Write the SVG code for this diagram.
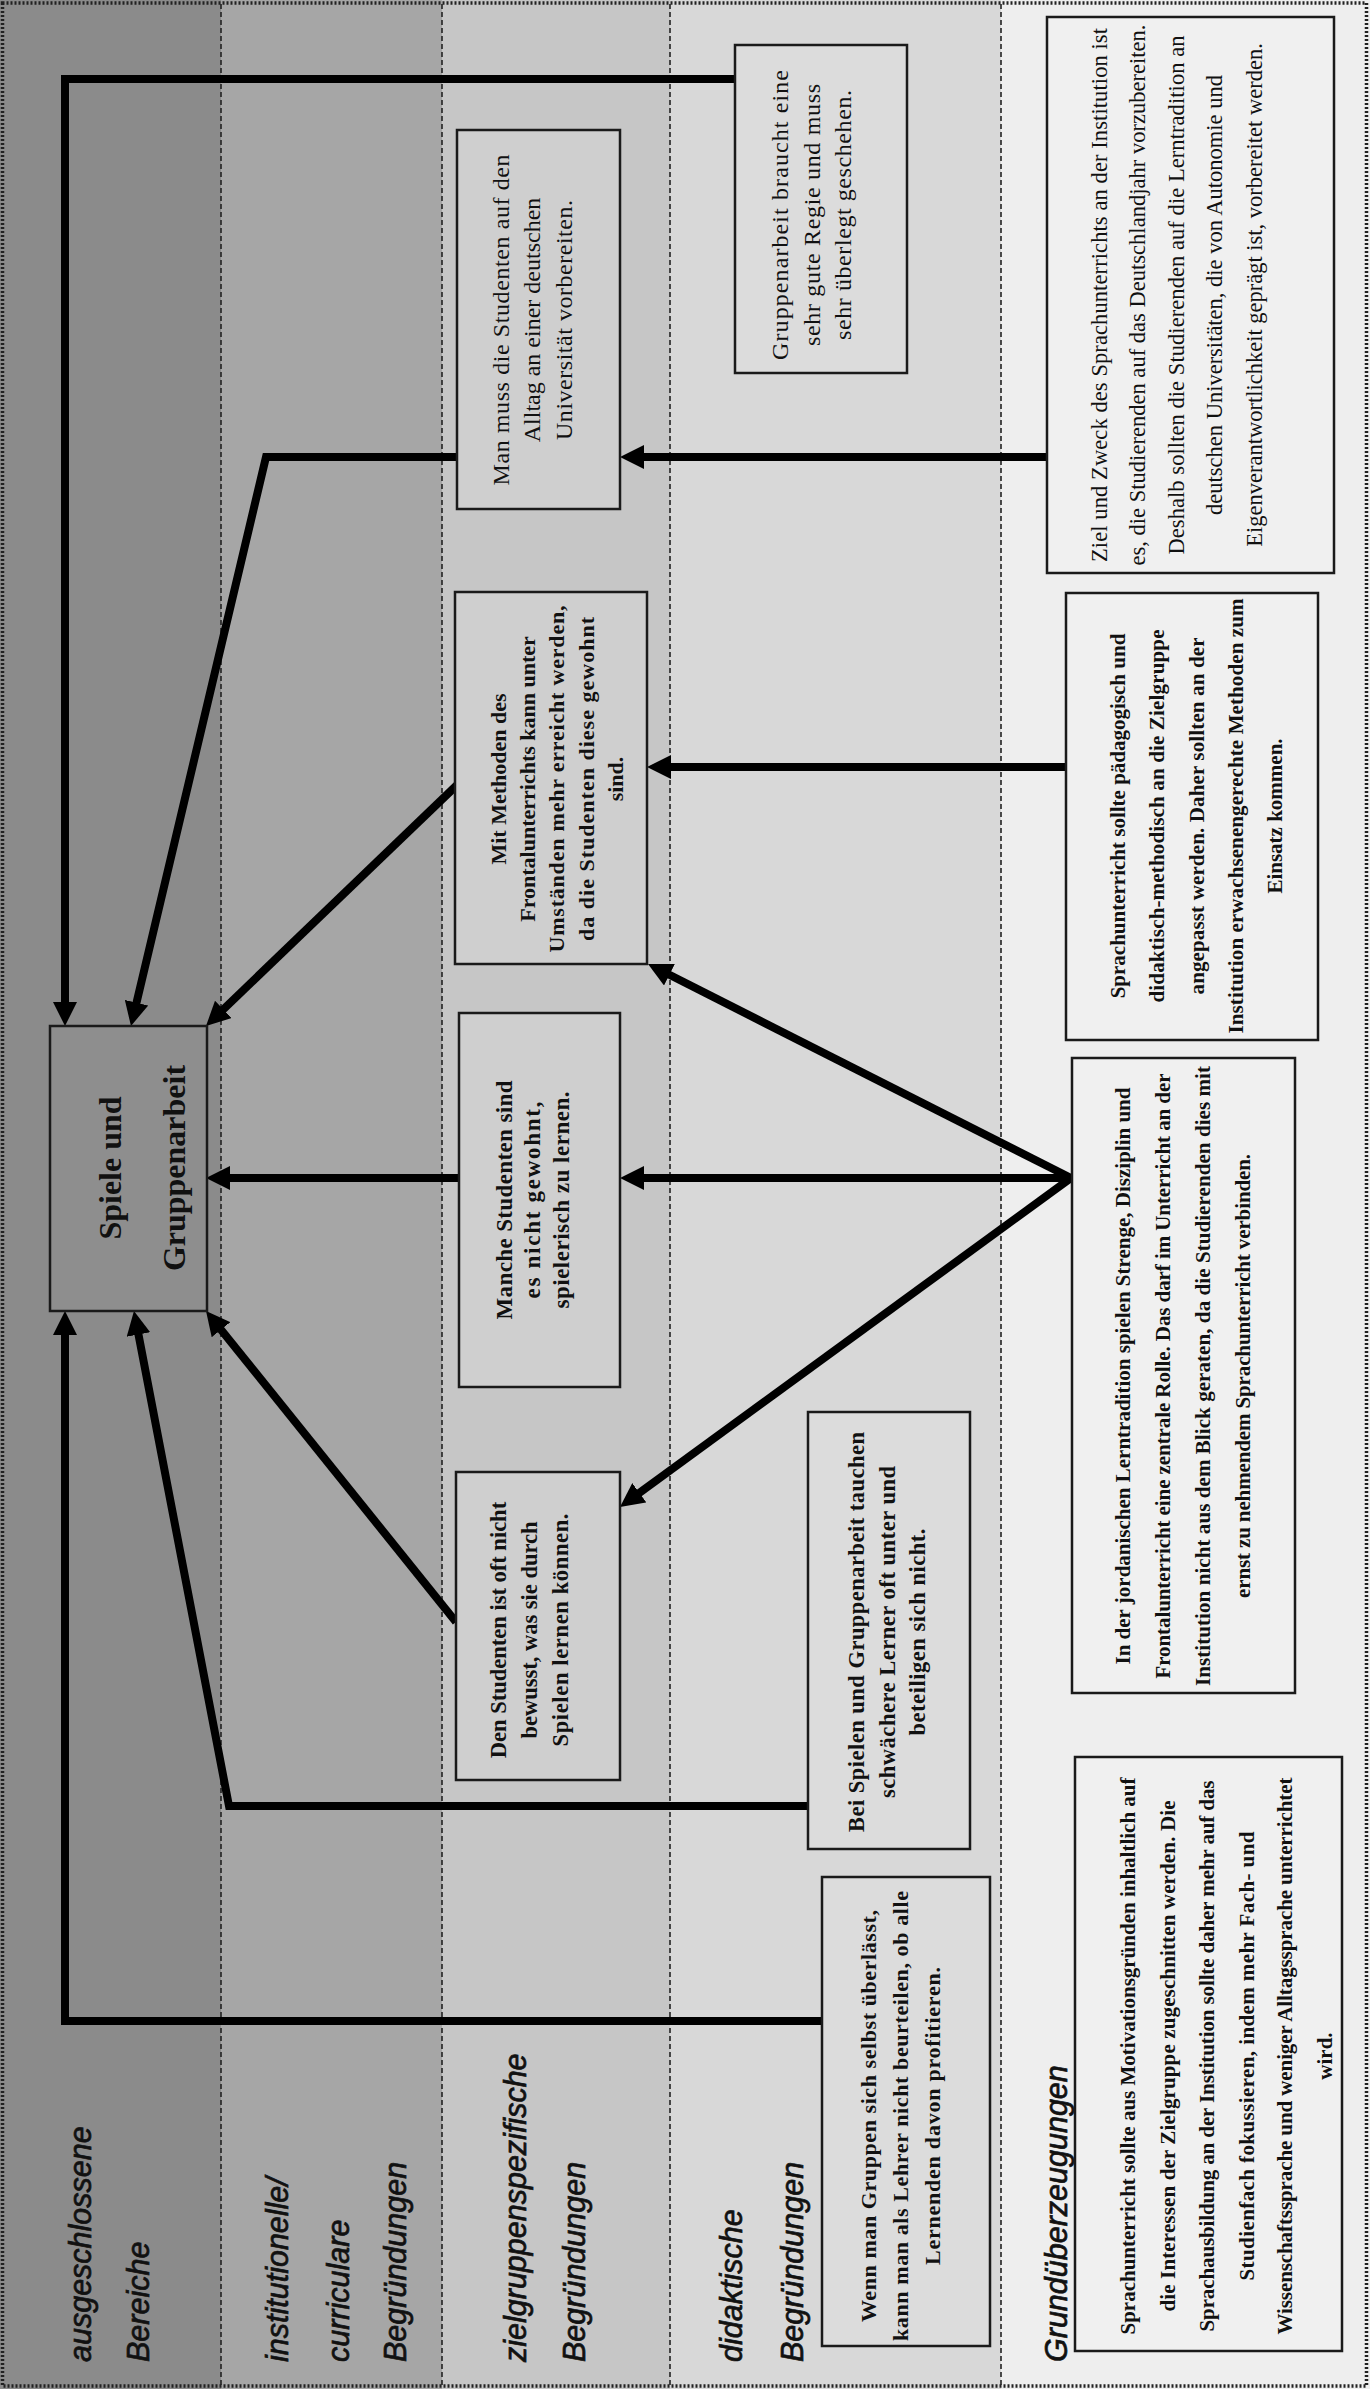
<svg xmlns="http://www.w3.org/2000/svg" width="1370" height="2389" viewBox="0 0 1370 2389">
<style>
.hdr{font-family:"Liberation Sans",Arial,sans-serif;font-style:italic;font-size:30.5px;fill:#111;stroke:#111;stroke-width:0.7}
.r{font-family:"Liberation Serif","Times New Roman",serif;fill:#111;text-anchor:middle}
.b{font-family:"Liberation Serif","Times New Roman",serif;font-weight:bold;fill:#111;text-anchor:middle}
.box{stroke:#1a1a1a;stroke-width:2.5}
.c3{fill:#cfcfcf}.c4{fill:#dcdcdc}.c5{fill:#f0f0f0}
.div{stroke:#222;stroke-width:1.6;stroke-dasharray:5 3;fill:none}
.arr{stroke:#000;stroke-width:8;fill:none;stroke-linejoin:miter;marker-end:url(#ah)}
</style>
<defs>
<marker id="ah" viewBox="0 0 24 24" refX="10" refY="12" markerWidth="24" markerHeight="24" markerUnits="userSpaceOnUse" orient="auto">
<path d="M0,0 L24,12 L0,24 z" fill="#000"/>
</marker>
</defs>
<g id="background">
<rect x="0" y="0" width="221" height="2389" fill="#8b8b8b"/>
<rect x="221" y="0" width="221" height="2389" fill="#a6a6a6"/>
<rect x="442" y="0" width="228" height="2389" fill="#c6c6c6"/>
<rect x="670" y="0" width="331" height="2389" fill="#d8d8d8"/>
<rect x="1001" y="0" width="369" height="2389" fill="#eeeeee"/>
<line class="div" x1="221" y1="4" x2="221" y2="2385"/>
<line class="div" x1="442" y1="4" x2="442" y2="2385"/>
<line class="div" x1="670" y1="4" x2="670" y2="2385"/>
<line class="div" x1="1001" y1="4" x2="1001" y2="2385"/>
<rect x="2.5" y="3" width="1364" height="2383" fill="none" stroke="#222" stroke-width="3.5" stroke-dasharray="2 2"/>
</g>
<g id="headers">
<text class="hdr" transform="translate(0,2362) rotate(-90)"><tspan x="0" y="91">ausgeschlossene</tspan><tspan x="0" y="149">Bereiche</tspan></text>
<text class="hdr" transform="translate(0,2362) rotate(-90)"><tspan x="0" y="288">institutionelle/</tspan><tspan x="0" y="349">curriculare</tspan><tspan x="0" y="406">Begründungen</tspan></text>
<text class="hdr" transform="translate(0,2362) rotate(-90)"><tspan x="0" y="526">zielgruppenspezifische</tspan><tspan x="0" y="585">Begründungen</tspan></text>
<text class="hdr" transform="translate(0,2362) rotate(-90)"><tspan x="0" y="742">didaktische</tspan><tspan x="0" y="803">Begründungen</tspan></text>
<text class="hdr" transform="translate(0,2362) rotate(-90)"><tspan x="0" y="1067">Grundüberzeugungen</tspan></text>
</g>
<g id="connectors">
<path class="arr" d="M735,79 H65 V1012"/>
<path class="arr" d="M1047,457 H634"/>
<path class="arr" d="M457,457 H266 L134.2,1012.4"/>
<path class="arr" d="M1066,767 H661"/>
<path class="arr" d="M457,785 L216.1,1016.3"/>
<path class="arr" d="M1071,1178 L660.5,970.3"/>
<path class="arr" d="M1071,1178 H634"/>
<path class="arr" d="M1071,1178 L631.3,1498.7"/>
<path class="arr" d="M459,1178 H220"/>
<path class="arr" d="M456,1622 L214.8,1321.9"/>
<path class="arr" d="M808,1806 H229 L136.6,1324.7"/>
<path class="arr" d="M822,2021 H65 V1325"/>
</g>
<g id="node-center">
<rect class="box" x="50" y="1026" width="157" height="285" fill="#8e8e8e"/>
<g class="b" style="font-size:32px" transform="translate(0,1168) rotate(-90)">
<text x="0" y="121">Spiele und</text>
<text x="0" y="185">Gruppenarbeit</text>
</g>
</g>
<g id="node-regie">
<rect class="box c4" x="735" y="45" width="172" height="328"/>
<g class="r" style="font-size:24px" transform="translate(0,215) rotate(-90)">
<text x="0" y="788" textLength="290">Gruppenarbeit braucht eine</text>
<text x="0" y="820" textLength="262">sehr gute Regie und muss</text>
<text x="0" y="851" textLength="250">sehr überlegt geschehen.</text>
</g>
</g>
<g id="node-alltag">
<rect class="box c3" x="457" y="130" width="163" height="379"/>
<g class="r" style="font-size:24px" transform="translate(0,320) rotate(-90)">
<text x="0" y="509" textLength="331">Man muss die Studenten auf den</text>
<text x="0" y="540">Alltag an einer deutschen</text>
<text x="0" y="572" textLength="240">Universität vorbereiten.</text>
</g>
</g>
<g id="node-frontal">
<rect class="box c3" x="455" y="592" width="192" height="372"/>
<g class="b" style="font-size:22px" transform="translate(0,779) rotate(-90)">
<text x="0" y="506">Mit Methoden des</text>
<text x="0" y="535">Frontalunterrichts kann unter</text>
<text x="0" y="564" textLength="347">Umständen mehr erreicht werden,</text>
<text x="0" y="594" textLength="324">da die Studenten diese gewohnt</text>
<text x="0" y="623">sind.</text>
</g>
</g>
<g id="node-manche">
<rect class="box c3" x="459" y="1013" width="161" height="374"/>
<g class="b" style="font-size:23px" transform="translate(0,1200) rotate(-90)">
<text x="0" y="512" textLength="239">Manche Studenten sind</text>
<text x="0" y="540" textLength="197">es nicht gewohnt,</text>
<text x="0" y="569" textLength="217">spielerisch zu lernen.</text>
</g>
</g>
<g id="node-bewusst">
<rect class="box c3" x="456" y="1472" width="164" height="308"/>
<g class="b" style="font-size:22.5px" transform="translate(0,1630) rotate(-90)">
<text x="0" y="506">Den Studenten ist oft nicht</text>
<text x="0" y="537">bewusst, was sie durch</text>
<text x="0" y="568" textLength="233">Spielen lernen können.</text>
</g>
</g>
<g id="node-schwaecher">
<rect class="box c4" x="808" y="1412" width="162" height="437"/>
<g class="b" style="font-size:22.5px" transform="translate(0,1632) rotate(-90)">
<text x="0" y="864" textLength="400">Bei Spielen und Gruppenarbeit tauchen</text>
<text x="0" y="895" textLength="332">schwächere Lerner oft unter und</text>
<text x="0" y="925" textLength="207">beteiligen sich nicht.</text>
</g>
</g>
<g id="node-wenn">
<rect class="box c4" x="822" y="1877" width="168" height="469"/>
<g class="b" style="font-size:22px" transform="translate(0,2116) rotate(-90)">
<text x="0" y="876" textLength="412">Wenn man Gruppen sich selbst überlässt,</text>
<text x="0" y="908" textLength="450">kann man als Lehrer nicht beurteilen, ob alle</text>
<text x="0" y="940" textLength="298">Lernenden davon profitieren.</text>
</g>
</g>
<g id="node-ziel">
<rect class="box c5" x="1047" y="17" width="287" height="556"/>
<g class="r" style="font-size:22.5px" transform="translate(0,295) rotate(-90)">
<text x="0" y="1107" textLength="534">Ziel und Zweck des Sprachunterrichts an der Institution ist</text>
<text x="0" y="1145" textLength="541">es, die Studierenden auf das Deutschlandjahr vorzubereiten.</text>
<text x="0" y="1184" textLength="519">Deshalb sollten die Studierenden auf die Lerntradition an</text>
<text x="0" y="1222">deutschen Universitäten, die von Autonomie und</text>
<text x="0" y="1262">Eigenverantwortlichkeit geprägt ist, vorbereitet werden.</text>
</g>
</g>
<g id="node-paedagogisch">
<rect class="box c5" x="1066" y="593" width="252" height="447"/>
<g class="b" style="font-size:21px" transform="translate(0,816) rotate(-90)">
<text x="0" y="1125">Sprachunterricht sollte pädagogisch und</text>
<text x="0" y="1164" textLength="373">didaktisch-methodisch an die Zielgruppe</text>
<text x="0" y="1204" textLength="357">angepasst werden. Daher sollten an der</text>
<text x="0" y="1243" textLength="435">Institution erwachsenengerechte Methoden zum</text>
<text x="0" y="1282">Einsatz kommen.</text>
</g>
</g>
<g id="node-jordanisch">
<rect class="box c5" x="1072" y="1058" width="223" height="635"/>
<g class="b" style="font-size:21px" transform="translate(0,1376) rotate(-90)">
<text x="0" y="1130" textLength="577">In der jordanischen Lerntradition spielen Strenge, Disziplin und</text>
<text x="0" y="1170" textLength="605">Frontalunterricht eine zentrale Rolle. Das darf im Unterricht an der</text>
<text x="0" y="1210" textLength="620">Institution nicht aus dem Blick geraten, da die Studierenden dies mit</text>
<text x="0" y="1250" textLength="444">ernst zu nehmendem Sprachunterricht verbinden.</text>
</g>
</g>
<g id="node-motivation">
<rect class="box c5" x="1075" y="1757" width="267" height="594"/>
<g class="b" style="font-size:21px" transform="translate(0,2056) rotate(-90)">
<text x="0" y="1135" textLength="557">Sprachunterricht sollte aus Motivationsgründen inhaltlich auf</text>
<text x="0" y="1175" textLength="511">die Interessen der Zielgruppe zugeschnitten werden. Die</text>
<text x="0" y="1214" textLength="551">Sprachausbildung an der Institution sollte daher mehr auf das</text>
<text x="0" y="1254" textLength="449">Studienfach fokussieren, indem mehr Fach- und</text>
<text x="0" y="1292" textLength="557">Wissenschaftssprache und weniger Alltagssprache unterrichtet</text>
<text x="0" y="1332">wird.</text>
</g>
</g>
</svg>
